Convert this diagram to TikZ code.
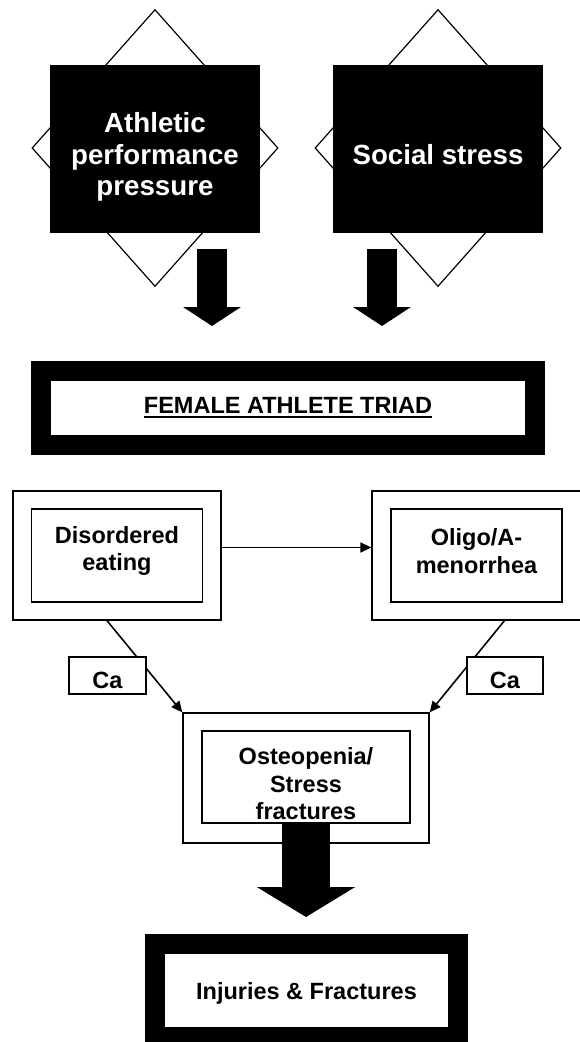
\documentclass[tikz,border=0pt]{standalone}
\usepackage{fontspec}
\setmainfont{Liberation Sans}
\usetikzlibrary{shapes.geometric, arrows.meta, positioning}
\newcommand{\bigtxt}{\fontsize{27.7}{31.5}\selectfont\bfseries}
\newcommand{\midtxt}{\fontsize{23.5}{27.5}\selectfont\bfseries}
\newcommand{\thickul}[1]{\setbox0\hbox{#1}\rlap{\vrule width\wd0 height -2.5pt depth 4.8pt}\box0}

\begin{document}
\begin{tikzpicture}[x=1pt, y=-1pt,
  dmd/.style={diamond, draw, line width=1.2pt, fill=white, inner sep=0pt,
              minimum width=246pt, minimum height=277pt},
  blk/.style={rectangle, fill=black, inner sep=0pt,
              minimum width=210pt, minimum height=168pt},
  wtxt/.style={text=white, font=\bigtxt, align=center, inner sep=0pt},
  thickbox/.style={rectangle, draw=black, line width=20pt, fill=white,
                   inner sep=0pt, font=\midtxt},
  outbox/.style={rectangle, draw, line width=1.3pt, fill=white, inner sep=0pt},
  inbox/.style={rectangle, draw, line width=1.3pt, inner sep=0pt},
  txt/.style={font=\midtxt, align=center, inner sep=0pt},
  fatarrow/.style={line width=30pt, -{Triangle[width=57pt,length=19pt]}},
  bigarrow/.style={line width=48pt, -{Triangle[width=97pt,length=30pt]}},
  arrow/.style={line width=1.6pt, -{Triangle[length=11pt,width=10pt]}}
]
\useasboundingbox (0,0) rectangle (579,1042);

% pressures
\node[dmd] (ap-d) at (155,148) {};
\node[dmd] (ss-d) at (438,148) {};
\node[blk] (ap) at (155,149) {};
\node[blk] (ss) at (438,149) {};
\node[wtxt] (ap-t) at (155,157) {Athletic\\performance\\pressure};
\node[wtxt] (ss-t) at (438,155) {Social stress};

\coordinate (ap-out) at (212,249);
\coordinate (ap-in)  at (212,326);
\coordinate (ss-out) at (382,249);
\coordinate (ss-in)  at (382,326);
\draw[fatarrow] (ap-out) -- (ap-in);
\draw[fatarrow] (ss-out) -- (ss-in);

\node[thickbox, minimum width=494pt, minimum height=74pt] (fat) at (288,408)
  {\thickul{FEMALE ATHLETE TRIAD}};

% triad
\node[outbox, minimum width=208pt, minimum height=129pt] (de) at (117,555.5) {};
\node[inbox, minimum width=171pt, minimum height=93pt] (de-in) at (de.center) {};
\node[txt] (de-t) at (117,551) {Disordered\\eating};

\node[outbox, minimum width=209pt, minimum height=129pt] (ol) at (476.5,555.5) {};
\node[inbox, minimum width=171pt, minimum height=93pt] (ol-in) at (ol.center) {};
\node[txt] (ol-t) at (476.5,551) {Oligo/A-\\menorrhea};

\node[outbox, minimum width=246pt, minimum height=130pt] (os) at (306,778) {};
\node[inbox, minimum width=208pt, minimum height=92pt] (os-in) at (306,777) {};
\node[txt] (os-t) at (306,784) {Osteopenia/\\Stress\\fractures};

\draw[arrow] ([yshift=8pt]de.east) -- ([yshift=8pt]ol.west);
\draw[arrow] ([xshift=-10pt]de.south) -- (os.north west);
\draw[arrow] ([xshift=28pt]ol.south) -- (os.north east);

\node[outbox, minimum width=77pt, minimum height=37pt, font=\midtxt,
      text height=26.8pt, text depth=0pt] (ca-l) at (107.5,675.5) {Ca};
\node[outbox, minimum width=76pt, minimum height=37pt, font=\midtxt,
      text height=26.8pt, text depth=0pt] (ca-r) at (505,675.5) {Ca};

% outcome
\coordinate (inj-top) at (306,917);
\draw[bigarrow] (os-in.south) -- (inj-top);

\node[thickbox, minimum width=303pt, minimum height=93pt,
      text height=23pt, text depth=5pt] (inj) at (306.5,990.5)
  {Injuries \& Fractures};
\end{tikzpicture}
\end{document}
